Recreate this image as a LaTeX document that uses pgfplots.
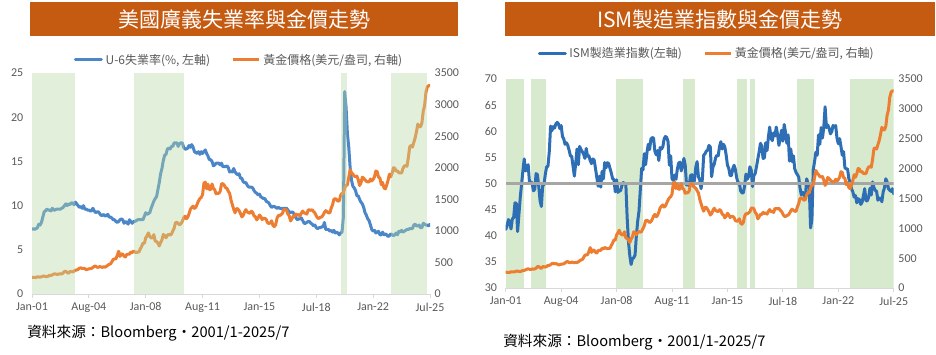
\documentclass[border=0pt]{standalone}
\usepackage{fontspec}
\setmainfont{Carlito}
\newfontfamily\cjk{Noto Sans CJK TC}
\usepackage{pgfplots}
\usepackage{pgfplotstable}
\pgfplotsset{compat=1.18}
\definecolor{titlebg}{RGB}{197,90,17}
\definecolor{blueL}{RGB}{74,134,200}
\definecolor{blueR}{RGB}{46,110,180}
\definecolor{orangeC}{RGB}{237,125,49}
\definecolor{shadeL}{RGB}{183,215,162}
\definecolor{shadeR}{RGB}{216,234,205}
\definecolor{tickgray}{RGB}{89,89,89}
\definecolor{axisgray}{RGB}{217,217,217}
\definecolor{line50}{RGB}{166,166,166}

\pgfplotstableread[row sep=\\]{
m v\\
0 266\\ 1 262\\ 2 263\\ 3 261\\ 4 272\\ 5 270\\ 6 268\\ 7 272\\ 8 283\\ 9 283\\ 10 276\\ 11 276\\
12 282\\ 13 296\\ 14 294\\ 15 303\\ 16 315\\ 17 321\\ 18 313\\ 19 310\\ 20 319\\ 21 317\\ 22 319\\ 23 333\\
24 357\\ 25 359\\ 26 341\\ 27 328\\ 28 356\\ 29 356\\ 30 351\\ 31 360\\ 32 379\\ 33 379\\ 34 390\\ 35 408\\
36 414\\ 37 405\\ 38 407\\ 39 403\\ 40 384\\ 41 392\\ 42 398\\ 43 401\\ 44 405\\ 45 421\\ 46 439\\ 47 442\\
48 424\\ 49 423\\ 50 434\\ 51 429\\ 52 422\\ 53 431\\ 54 425\\ 55 438\\ 56 456\\ 57 470\\ 58 477\\ 59 510\\
60 550\\ 61 555\\ 62 557\\ 63 611\\ 64 677\\ 65 596\\ 66 634\\ 67 633\\ 68 598\\ 69 586\\ 70 628\\ 71 630\\
72 631\\ 73 665\\ 74 655\\ 75 679\\ 76 667\\ 77 656\\ 78 665\\ 79 665\\ 80 713\\ 81 755\\ 82 806\\ 83 803\\
84 890\\ 85 922\\ 86 968\\ 87 910\\ 88 889\\ 89 890\\ 90 940\\ 91 839\\ 92 830\\ 93 807\\ 94 761\\ 95 816\\
96 859\\ 97 943\\ 98 924\\ 99 890\\ 100 929\\ 101 946\\ 102 934\\ 103 949\\ 104 997\\ 105 1043\\ 106 1127\\ 107 1135\\
108 1118\\ 109 1095\\ 110 1113\\ 111 1149\\ 112 1205\\ 113 1233\\ 114 1193\\ 115 1216\\ 116 1271\\ 117 1342\\ 118 1370\\ 119 1391\\
120 1356\\ 121 1373\\ 122 1424\\ 123 1474\\ 124 1510\\ 125 1529\\ 126 1573\\ 127 1756\\ 128 1772\\ 129 1665\\ 130 1739\\ 131 1652\\
132 1656\\ 133 1743\\ 134 1674\\ 135 1650\\ 136 1586\\ 137 1597\\ 138 1594\\ 139 1626\\ 140 1745\\ 141 1747\\ 142 1722\\ 143 1685\\
144 1672\\ 145 1628\\ 146 1593\\ 147 1488\\ 148 1414\\ 149 1343\\ 150 1286\\ 151 1352\\ 152 1349\\ 153 1317\\ 154 1276\\ 155 1222\\
156 1244\\ 157 1300\\ 158 1336\\ 159 1299\\ 160 1288\\ 161 1279\\ 162 1311\\ 163 1295\\ 164 1237\\ 165 1223\\ 166 1175\\ 167 1201\\
168 1251\\ 169 1227\\ 170 1179\\ 171 1199\\ 172 1199\\ 173 1182\\ 174 1128\\ 175 1118\\ 176 1125\\ 177 1159\\ 178 1086\\ 179 1068\\
180 1098\\ 181 1200\\ 182 1245\\ 183 1242\\ 184 1259\\ 185 1276\\ 186 1337\\ 187 1340\\ 188 1327\\ 189 1267\\ 190 1238\\ 191 1157\\
192 1192\\ 193 1234\\ 194 1231\\ 195 1267\\ 196 1246\\ 197 1260\\ 198 1237\\ 199 1283\\ 200 1314\\ 201 1280\\ 202 1282\\ 203 1265\\
204 1331\\ 205 1331\\ 206 1325\\ 207 1335\\ 208 1304\\ 209 1282\\ 210 1238\\ 211 1202\\ 212 1198\\ 213 1215\\ 214 1221\\ 215 1250\\
216 1292\\ 217 1320\\ 218 1301\\ 219 1286\\ 220 1284\\ 221 1359\\ 222 1413\\ 223 1500\\ 224 1511\\ 225 1495\\ 226 1470\\ 227 1479\\
228 1561\\ 229 1597\\ 230 1592\\ 231 1683\\ 232 1716\\ 233 1732\\ 234 1847\\ 235 1969\\ 236 1922\\ 237 1900\\ 238 1866\\ 239 1858\\
240 1867\\ 241 1808\\ 242 1718\\ 243 1760\\ 244 1850\\ 245 1835\\ 246 1808\\ 247 1785\\ 248 1775\\ 249 1777\\ 250 1821\\ 251 1791\\
252 1816\\ 253 1856\\ 254 1948\\ 255 1937\\ 256 1849\\ 257 1837\\ 258 1733\\ 259 1765\\ 260 1681\\ 261 1665\\ 262 1725\\ 263 1798\\
264 1898\\ 265 1855\\ 266 1913\\ 267 2000\\ 268 1992\\ 269 1943\\ 270 1951\\ 271 1919\\ 272 1917\\ 273 1917\\ 274 1986\\ 275 2027\\
276 2034\\ 277 2023\\ 278 2159\\ 279 2331\\ 280 2351\\ 281 2327\\ 282 2399\\ 283 2470\\ 284 2571\\ 285 2691\\ 286 2651\\ 287 2648\\
288 2709\\ 289 2895\\ 290 2983\\ 291 3193\\ 292 3278\\ 293 3300\\ 294 3300\\
}\gold

\pgfplotstableread[row sep=\\]{
m v\\
0 7.3\\ 1 7.4\\ 2 7.3\\ 3 7.4\\ 4 7.5\\ 5 7.9\\ 6 7.8\\ 7 8.1\\ 8 8.7\\ 9 9.3\\ 10 9.4\\ 11 9.6\\
12 9.5\\ 13 9.5\\ 14 9.4\\ 15 9.7\\ 16 9.5\\ 17 9.5\\ 18 9.6\\ 19 9.6\\ 20 9.6\\ 21 9.6\\ 22 9.7\\ 23 9.8\\
24 10.0\\ 25 10.2\\ 26 10.0\\ 27 10.2\\ 28 10.1\\ 29 10.3\\ 30 10.3\\ 31 10.1\\ 32 10.4\\ 33 10.2\\ 34 10.0\\ 35 9.8\\
36 9.9\\ 37 9.7\\ 38 10.0\\ 39 9.6\\ 40 9.6\\ 41 9.5\\ 42 9.5\\ 43 9.4\\ 44 9.4\\ 45 9.7\\ 46 9.4\\ 47 9.2\\
48 9.3\\ 49 9.3\\ 50 9.1\\ 51 8.9\\ 52 8.9\\ 53 9.0\\ 54 8.8\\ 55 8.9\\ 56 9.0\\ 57 8.7\\ 58 8.7\\ 59 8.6\\
60 8.4\\ 61 8.4\\ 62 8.2\\ 63 8.1\\ 64 8.2\\ 65 8.4\\ 66 8.5\\ 67 8.4\\ 68 8.0\\ 69 8.2\\ 70 8.1\\ 71 7.9\\
72 8.4\\ 73 8.2\\ 74 8.0\\ 75 8.2\\ 76 8.2\\ 77 8.3\\ 78 8.4\\ 79 8.4\\ 80 8.4\\ 81 8.4\\ 82 8.4\\ 83 8.8\\
84 9.2\\ 85 9.0\\ 86 9.1\\ 87 9.2\\ 88 9.7\\ 89 10.1\\ 90 10.5\\ 91 10.8\\ 92 11.0\\ 93 11.8\\ 94 12.6\\ 95 13.6\\
96 14.2\\ 97 15.1\\ 98 15.7\\ 99 15.8\\ 100 16.4\\ 101 16.5\\ 102 16.4\\ 103 16.7\\ 104 16.7\\ 105 17.1\\ 106 17.1\\ 107 17.1\\
108 16.7\\ 109 17.0\\ 110 17.1\\ 111 17.1\\ 112 16.6\\ 113 16.4\\ 114 16.4\\ 115 16.5\\ 116 16.8\\ 117 16.6\\ 118 16.9\\ 119 16.6\\
120 16.1\\ 121 16.0\\ 122 15.9\\ 123 16.1\\ 124 15.8\\ 125 16.1\\ 126 15.9\\ 127 16.1\\ 128 16.3\\ 129 15.9\\ 130 15.6\\ 131 15.2\\
132 15.2\\ 133 15.0\\ 134 14.5\\ 135 14.6\\ 136 14.8\\ 137 14.8\\ 138 14.8\\ 139 14.6\\ 140 14.8\\ 141 14.4\\ 142 14.4\\ 143 14.4\\
144 14.5\\ 145 14.3\\ 146 13.8\\ 147 13.9\\ 148 13.8\\ 149 14.2\\ 150 13.8\\ 151 13.6\\ 152 13.5\\ 153 13.6\\ 154 13.1\\ 155 13.1\\
156 12.7\\ 157 12.6\\ 158 12.6\\ 159 12.3\\ 160 12.1\\ 161 12.1\\ 162 12.1\\ 163 12.0\\ 164 11.7\\ 165 11.5\\ 166 11.4\\ 167 11.2\\
168 11.3\\ 169 11.0\\ 170 10.9\\ 171 10.8\\ 172 10.8\\ 173 10.5\\ 174 10.4\\ 175 10.3\\ 176 10.0\\ 177 9.8\\ 178 9.9\\ 179 9.9\\
180 9.8\\ 181 9.7\\ 182 9.8\\ 183 9.7\\ 184 9.7\\ 185 9.6\\ 186 9.7\\ 187 9.7\\ 188 9.7\\ 189 9.5\\ 190 9.3\\ 191 9.2\\
192 9.3\\ 193 9.2\\ 194 8.9\\ 195 8.6\\ 196 8.4\\ 197 8.5\\ 198 8.5\\ 199 8.6\\ 200 8.3\\ 201 8.0\\ 202 8.0\\ 203 8.1\\
204 8.2\\ 205 8.2\\ 206 8.0\\ 207 7.9\\ 208 7.7\\ 209 7.8\\ 210 7.5\\ 211 7.4\\ 212 7.5\\ 213 7.5\\ 214 7.6\\ 215 7.6\\
216 8.1\\ 217 7.3\\ 218 7.3\\ 219 7.3\\ 220 7.1\\ 221 7.2\\ 222 7.0\\ 223 7.2\\ 224 6.9\\ 225 7.0\\ 226 6.9\\ 227 6.7\\
228 6.9\\ 229 7.0\\ 230 8.7\\ 231 22.9\\ 232 21.1\\ 233 18.1\\ 234 16.6\\ 235 14.3\\ 236 12.9\\ 237 12.2\\ 238 12.0\\ 239 11.7\\
240 11.1\\ 241 11.1\\ 242 10.7\\ 243 10.4\\ 244 10.2\\ 245 9.8\\ 246 9.2\\ 247 8.9\\ 248 8.5\\ 249 8.3\\ 250 7.8\\ 251 7.3\\
252 7.1\\ 253 7.2\\ 254 6.9\\ 255 7.0\\ 256 7.1\\ 257 6.7\\ 258 6.7\\ 259 7.0\\ 260 6.7\\ 261 6.8\\ 262 6.7\\ 263 6.5\\
264 6.6\\ 265 6.8\\ 266 6.7\\ 267 6.6\\ 268 6.7\\ 269 6.9\\ 270 6.7\\ 271 7.1\\ 272 7.0\\ 273 7.2\\ 274 7.0\\ 275 7.1\\
276 7.2\\ 277 7.3\\ 278 7.3\\ 279 7.4\\ 280 7.4\\ 281 7.4\\ 282 7.8\\ 283 7.9\\ 284 7.7\\ 285 7.7\\ 286 7.8\\ 287 7.5\\
288 7.5\\ 289 8.0\\ 290 7.9\\ 291 7.8\\ 292 7.8\\ 293 7.7\\ 294 7.9\\
}\usix

\pgfplotstableread[row sep=\\]{
m v\\
0 41.2\\ 1 41.9\\ 2 43.1\\ 3 42.7\\ 4 41.3\\ 5 43.2\\ 6 43.5\\ 7 46.3\\ 8 46.2\\ 9 40.8\\ 10 44.1\\ 11 47.3\\
12 49.9\\ 13 52.4\\ 14 54.7\\ 15 52.4\\ 16 53.1\\ 17 53.6\\ 18 50.2\\ 19 50.3\\ 20 50.1\\ 21 48.6\\ 22 48.9\\ 23 51.9\\
24 51.7\\ 25 49.5\\ 26 46.7\\ 27 45.6\\ 28 49.6\\ 29 49.8\\ 30 51.8\\ 31 53.2\\ 32 53.3\\ 33 56.1\\ 34 61.0\\ 35 60.1\\
36 60.9\\ 37 60.6\\ 38 61.4\\ 39 61.7\\ 40 61.4\\ 41 60.5\\ 42 61.1\\ 43 59.0\\ 44 58.5\\ 45 57.5\\ 46 57.8\\ 47 57.3\\
48 56.4\\ 49 55.3\\ 50 55.2\\ 51 53.3\\ 52 51.4\\ 53 53.8\\ 54 56.6\\ 55 53.6\\ 56 57.1\\ 57 56.5\\ 58 56.1\\ 59 55.6\\
60 54.8\\ 61 56.7\\ 62 55.2\\ 63 55.3\\ 64 54.4\\ 65 53.8\\ 66 54.7\\ 67 54.5\\ 68 52.9\\ 69 51.2\\ 70 49.5\\ 71 51.4\\
72 49.3\\ 73 52.3\\ 74 50.9\\ 75 54.0\\ 76 53.0\\ 77 54.0\\ 78 53.8\\ 79 52.9\\ 80 52.0\\ 81 50.9\\ 82 50.8\\ 83 48.4\\
84 50.7\\ 85 48.3\\ 86 48.6\\ 87 48.6\\ 88 49.6\\ 89 50.2\\ 90 50.0\\ 91 49.9\\ 92 43.5\\ 93 38.9\\ 94 36.2\\ 95 34.5\\
96 35.6\\ 97 35.8\\ 98 36.3\\ 99 40.1\\ 100 42.8\\ 101 44.8\\ 102 48.9\\ 103 52.9\\ 104 52.6\\ 105 55.7\\ 106 53.6\\ 107 55.9\\
108 57.5\\ 109 56.5\\ 110 58.5\\ 111 58.8\\ 112 58.7\\ 113 56.2\\ 114 55.5\\ 115 56.3\\ 116 54.4\\ 117 56.9\\ 118 56.6\\ 119 57.0\\
120 58.5\\ 121 59.0\\ 122 58.8\\ 123 58.0\\ 124 53.5\\ 125 55.3\\ 126 50.9\\ 127 50.6\\ 128 51.6\\ 129 50.8\\ 130 52.7\\ 131 53.9\\
132 54.1\\ 133 52.4\\ 134 53.4\\ 135 54.8\\ 136 53.5\\ 137 49.7\\ 138 49.8\\ 139 49.6\\ 140 51.5\\ 141 51.7\\ 142 49.5\\ 143 50.7\\
144 53.1\\ 145 54.2\\ 146 51.3\\ 147 50.7\\ 148 49.0\\ 149 50.9\\ 150 55.4\\ 151 55.7\\ 152 56.2\\ 153 56.4\\ 154 57.3\\ 155 57.0\\
156 51.3\\ 157 53.2\\ 158 53.7\\ 159 54.9\\ 160 55.4\\ 161 55.3\\ 162 57.1\\ 163 58.0\\ 164 56.6\\ 165 57.5\\ 166 57.0\\ 167 55.5\\
168 53.5\\ 169 52.9\\ 170 51.5\\ 171 51.5\\ 172 52.8\\ 173 53.5\\ 174 52.7\\ 175 51.1\\ 176 50.2\\ 177 50.1\\ 178 48.6\\ 179 48.2\\
180 48.2\\ 181 49.5\\ 182 51.8\\ 183 50.8\\ 184 51.3\\ 185 53.2\\ 186 52.6\\ 187 49.4\\ 188 51.5\\ 189 51.9\\ 190 53.2\\ 191 54.7\\
192 56.0\\ 193 57.7\\ 194 57.2\\ 195 54.8\\ 196 54.9\\ 197 57.8\\ 198 56.3\\ 199 58.8\\ 200 60.8\\ 201 58.7\\ 202 58.2\\ 203 59.7\\
204 59.1\\ 205 60.8\\ 206 59.3\\ 207 57.3\\ 208 58.7\\ 209 60.2\\ 210 58.1\\ 211 61.3\\ 212 59.8\\ 213 57.7\\ 214 59.3\\ 215 54.3\\
216 56.6\\ 217 54.2\\ 218 55.3\\ 219 52.8\\ 220 52.1\\ 221 51.7\\ 222 51.2\\ 223 49.1\\ 224 47.8\\ 225 48.3\\ 226 48.1\\ 227 47.2\\
228 50.9\\ 229 50.1\\ 230 49.1\\ 231 41.5\\ 232 43.1\\ 233 52.6\\ 234 54.2\\ 235 56.0\\ 236 55.4\\ 237 59.3\\ 238 57.5\\ 239 60.7\\
240 58.7\\ 241 60.8\\ 242 64.7\\ 243 60.7\\ 244 61.2\\ 245 60.6\\ 246 59.5\\ 247 59.9\\ 248 61.1\\ 249 60.8\\ 250 61.1\\ 251 58.7\\
252 57.6\\ 253 58.6\\ 254 57.1\\ 255 55.4\\ 256 56.1\\ 257 53.0\\ 258 52.8\\ 259 52.8\\ 260 50.9\\ 261 50.2\\ 262 49.0\\ 263 48.4\\
264 47.4\\ 265 47.7\\ 266 46.3\\ 267 47.1\\ 268 46.9\\ 269 46.0\\ 270 46.4\\ 271 47.6\\ 272 49.0\\ 273 46.7\\ 274 46.7\\ 275 47.4\\
276 49.1\\ 277 47.8\\ 278 50.3\\ 279 49.2\\ 280 48.7\\ 281 48.5\\ 282 46.8\\ 283 47.2\\ 284 47.2\\ 285 46.5\\ 286 48.4\\ 287 49.2\\
288 50.9\\ 289 50.3\\ 290 49.0\\ 291 48.7\\ 292 48.5\\ 293 49.0\\ 294 48.0\\
}\ism

\pgfplotsset{
  common/.style={
    scale only axis, xmin=0, xmax=294,
    tick label style={font=\fontsize{9}{10}\selectfont, color=tickgray},
    /pgf/number format/assume math mode=true,
    /pgf/number format/1000 sep={},
    ytick style={draw=none},
    y axis line style={draw=none},
  },
  xstyle/.style={
    axis x line*=bottom,
    x axis line style={draw=axisgray, line width=0.75pt, -},
    xtick style={draw=axisgray, line width=0.75pt},
    tick align=outside, major tick length=3pt,
    xtick={0,42,84,126,168,210,252,294},
    xticklabels={Jan-01,Aug-04,Jan-08,Aug-11,Jan-15,Jul-18,Jan-22,Jul-25},
  },
  leg/.style={
    legend columns=2,
    legend style={draw=none, fill=none, font=\cjk\fontsize{9}{10}\selectfont, text=tickgray,
      /tikz/every even column/.append style={column sep=14pt}},
    legend image code/.code={\draw[##1] (0pt,0pt) -- (19.5pt,0pt);},
  },
  dline/.style={line width=2.25pt, line join=round, line cap=round},
}

\begin{document}
\begin{tikzpicture}
\path[use as bounding box] (0pt,0pt) rectangle (702pt,-265.5pt);

% titles
\node[fill=titlebg, minimum width=321pt, minimum height=25.5pt, inner sep=0pt, text=white,
  font=\cjk\fontsize{15.75}{18}\selectfont] at (183pt,-14.25pt) {美國廣義失業率與金價走勢};
\node[fill=titlebg, minimum width=322.5pt, minimum height=25.5pt, inner sep=0pt, text=white,
  font=\cjk\fontsize{15.75}{18}\selectfont] at (540pt,-14.25pt) {ISM製造業指數與金價走勢};

% ---------- left chart ----------
\begin{axis}[common, xstyle, leg, at={(24pt,-220.5pt)}, anchor=south west,
  width=298.5pt, height=165.75pt, ymin=0, ymax=25, ytick={0,5,...,25},
  axis y line*=left,
  legend style={at={(0.521,1.059)}, anchor=center}]
  \addplot[blueL, dline] table[x=m, y=v] {\usix};
  \addlegendentry{U-6失業率(\%, 左軸)}
  \addlegendimage{orangeC, line width=2.25pt}
  \addlegendentry{黃金價格(美元/盎司, 右軸)}
\end{axis}
\begin{axis}[common, at={(24pt,-220.5pt)}, anchor=south west,
  width=298.5pt, height=165.75pt, ymin=0, ymax=3500, ytick={0,500,...,3500},
  axis y line*=right, axis x line=none]
  \addplot[orangeC, dline] table[x=m, y=v] {\gold};
  \addplot[draw=none, fill=shadeL, fill opacity=0.4] coordinates {(0,0)(0,3500)(32,3500)(32,0)} -- cycle;
  \addplot[draw=none, fill=shadeL, fill opacity=0.4] coordinates {(75,0)(75,3500)(112,3500)(112,0)} -- cycle;
  \addplot[draw=none, fill=shadeL, fill opacity=0.4] coordinates {(228,0)(228,3500)(233,3500)(233,0)} -- cycle;
  \addplot[draw=none, fill=shadeL, fill opacity=0.4] coordinates {(265,0)(265,3500)(292,3500)(292,0)} -- cycle;
\end{axis}

% ---------- right chart ----------
\begin{axis}[common, xstyle, leg, at={(379.3pt,-216pt)}, anchor=south west,
  width=291pt, height=156.75pt, ymin=30, ymax=70, ytick={30,35,...,70},
  axis y line*=left,
  legend style={at={(0.519,1.124)}, anchor=center}]
  \addplot[draw=none, fill=shadeR, forget plot] coordinates {(0,30)(0,70)(14,70)(14,30)} -- cycle;
  \addplot[draw=none, fill=shadeR, forget plot] coordinates {(19.2,30)(19.2,70)(30.4,70)(30.4,30)} -- cycle;
  \addplot[draw=none, fill=shadeR, forget plot] coordinates {(83.6,30)(83.6,70)(103.8,70)(103.8,30)} -- cycle;
  \addplot[draw=none, fill=shadeR, forget plot] coordinates {(134.6,30)(134.6,70)(143.5,70)(143.5,30)} -- cycle;
  \addplot[draw=none, fill=shadeR, forget plot] coordinates {(175,30)(175,70)(183,70)(183,30)} -- cycle;
  \addplot[draw=none, fill=shadeR, forget plot] coordinates {(185,30)(185,70)(189,70)(189,30)} -- cycle;
  \addplot[draw=none, fill=shadeR, forget plot] coordinates {(221,30)(221,70)(233.5,70)(233.5,30)} -- cycle;
  \addplot[draw=none, fill=shadeR, forget plot] coordinates {(260.6,30)(260.6,70)(294,70)(294,30)} -- cycle;
  \addplot[blueR, dline] table[x=m, y=v] {\ism};
  \addlegendentry{ISM製造業指數(左軸)}
  \addplot[line50, line width=2.25pt, forget plot] coordinates {(0,50)(294,50)};
  \addlegendimage{orangeC, line width=2.25pt}
  \addlegendentry{黃金價格(美元/盎司, 右軸)}
\end{axis}
\begin{axis}[common, at={(379.3pt,-216pt)}, anchor=south west,
  width=291pt, height=156.75pt, ymin=0, ymax=3500, ytick={0,500,...,3500},
  axis y line*=right, axis x line=none]
  \addplot[orangeC, dline] table[x=m, y=v] {\gold};
\end{axis}

% sources
\node[anchor=west, inner sep=0pt, font=\cjk\fontsize{11}{13}\selectfont, text=black]
  at (20.25pt,-249.75pt) {資料來源：Bloomberg‧2001/1-2025/7};
\node[anchor=west, inner sep=0pt, font=\cjk\fontsize{11}{13}\selectfont, text=black]
  at (377.25pt,-256.5pt) {資料來源：Bloomberg‧2001/1-2025/7};
\end{tikzpicture}
\end{document}
